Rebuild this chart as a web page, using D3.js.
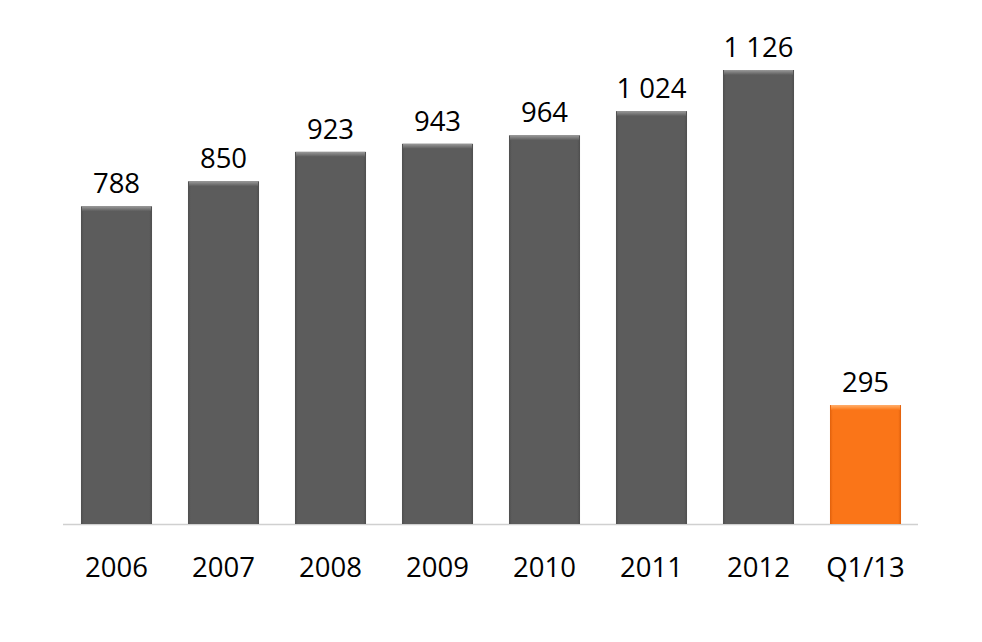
<!DOCTYPE html>
<html><head><meta charset="utf-8">
<script src="https://cdn.jsdelivr.net/npm/d3@7"></script>
<style>body{margin:0;background:#fff}svg{display:block}text{font-family:"Open Sans","Liberation Sans",sans-serif;fill:#000}</style>
</head><body><svg id="c" width="982" height="642"></svg>
<script>
const categories = ["2006","2007","2008","2009","2010","2011","2012","Q1/13"];
const values = [788, 850, 923, 943, 964, 1024, 1126, 295];
const valueLabels = ["788","850","923","943","964","1 024","1 126","295"];
const highlight = [false,false,false,false,false,false,false,true];

const svg = d3.select("#c");
const baseY = 524;
const x = d3.scaleBand().domain(categories).range([63, 919]).paddingInner(0.336).paddingOuter(0.168);
const y = d3.scaleLinear().domain([0, 1126]).range([baseY, 70]);

const defs = svg.append("defs");
function grad(id, top, mid, bottom){
  const g = defs.append("linearGradient").attr("id", id).attr("x1",0).attr("x2",0).attr("y1",0).attr("y2",1);
  g.append("stop").attr("offset","0%").attr("stop-color",top);
  g.append("stop").attr("offset","50%").attr("stop-color",mid);
  g.append("stop").attr("offset","100%").attr("stop-color",bottom);
}
grad("gTop","#9a9a9a","#7a7a7a","#5b5b5b");
grad("oTop","#ffb070","#ff9440","#fa7518");
function hgrad(id, edge, mid){
  const g = defs.append("linearGradient").attr("id", id).attr("x1",0).attr("x2",1).attr("y1",0).attr("y2",0);
  g.append("stop").attr("offset","0%").attr("stop-color",edge);
  g.append("stop").attr("offset","4%").attr("stop-color",mid);
  g.append("stop").attr("offset","96%").attr("stop-color",mid);
  g.append("stop").attr("offset","100%").attr("stop-color",edge);
}
hgrad("gBody","#4e4e4e","#5c5c5c");
hgrad("oBody","#e0600c","#fa7518");

// axis line
svg.append("line").attr("x1",63).attr("x2",918).attr("y1",baseY+0.5).attr("y2",baseY+0.5)
  .attr("stroke","#d0d0d0").attr("stroke-width",1.5);

const bars = svg.selectAll("g.bar").data(categories).join("g").attr("class","bar");
bars.append("rect")
  .attr("x", d => x(d)).attr("width", x.bandwidth())
  .attr("y", (d,i) => y(values[i])).attr("height", (d,i) => baseY - y(values[i]))
  .attr("fill", (d,i) => highlight[i] ? "url(#oBody)" : "url(#gBody)");
bars.append("rect")
  .attr("x", d => x(d)+1).attr("width", x.bandwidth()-2)
  .attr("y", (d,i) => y(values[i])).attr("height", 5)
  .attr("fill", (d,i) => highlight[i] ? "url(#oTop)" : "url(#gTop)");

svg.selectAll("text.val").data(categories).join("text").attr("class","val")
  .attr("x", d => x(d) + x.bandwidth()/2)
  .attr("y", (d,i) => y(values[i]) - 13)
  .attr("text-anchor","middle").attr("font-size",27.5)
  .text((d,i) => valueLabels[i]);

svg.selectAll("text.cat").data(categories).join("text").attr("class","cat")
  .attr("x", d => x(d) + x.bandwidth()/2)
  .attr("y", 577)
  .attr("text-anchor","middle").attr("font-size",27.5)
  .text(d => d);
</script></body></html>
